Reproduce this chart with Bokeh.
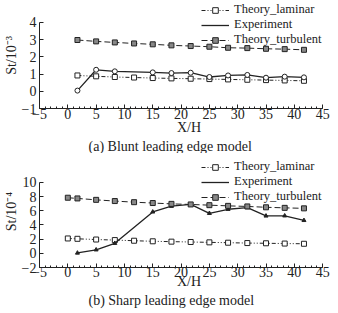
from bokeh.plotting import figure
from bokeh.models import (ColumnDataSource, Legend, LegendItem, Title, Range1d,
                          FixedTicker)
from bokeh.layouts import column
from bokeh.embed import file_html
from bokeh.resources import INLINE

# ---------------- data ----------------
x_a = [1.7, 5, 8.3, 11.7, 15, 18.3, 21.7, 25, 28.3, 31.7, 35, 38.3, 41.7]
lam_a = [0.92, 0.87, 0.83, 0.80, 0.77, 0.75, 0.73, 0.71, 0.69, 0.67, 0.65, 0.63, 0.61]
turb_a = [2.98, 2.90, 2.84, 2.78, 2.73, 2.67, 2.63, 2.59, 2.53, 2.51, 2.47, 2.45, 2.41]
xexp_a = [1.7, 5, 8.3, 15, 18.3, 21.7, 25, 28.3, 31.7, 35, 38.3, 41.7]
exp_a = [0.04, 1.25, 1.16, 1.10, 1.06, 1.08, 0.83, 0.92, 0.95, 0.79, 0.85, 0.81]

x_b = [0, 1.7, 5, 8.3, 11.7, 15, 18.3, 21.7, 25, 28.3, 31.7, 35, 38.3, 41.7]
lam_b = [2.10, 2.05, 1.95, 1.87, 1.78, 1.70, 1.65, 1.60, 1.55, 1.50, 1.45, 1.42, 1.38, 1.35]
turb_b = [7.85, 7.75, 7.55, 7.38, 7.22, 7.10, 6.98, 6.90, 6.80, 6.70, 6.62, 6.50, 6.42, 6.35]
xexp_b = [1.7, 5, 8.3, 15, 18.3, 21.7, 25, 28.3, 31.7, 35, 38.3, 41.7]
exp_b = [0.05, 0.50, 1.42, 5.85, 6.65, 6.92, 5.65, 6.22, 6.45, 5.28, 5.30, 4.65]

x_ticks = [-5, 0, 5, 10, 15, 20, 25, 30, 35, 40, 45]
y_ticks_a = [-1, 0, 1, 2, 3, 4]
y_ticks_b = [-2, 0, 2, 4, 6, 8, 10]

labels = ["Theory_laminar", "Experiment", "Theory_turbulent"]
ylabel_a = "St/10\u207b\u00b3"
ylabel_b = "St/10\u207b\u2074"
xlabel = "X/H"
caption_a = "(a)  Blunt leading edge model"
caption_b = "(b)  Sharp leading edge model"

FONT = "Liberation Serif"
INK = "#222222"
ROW = 14


def make_panel(x, lam, turb, xexp, exp, yticks, ytop, ylabel, caption,
               height, frame_h, legend_top, tick_so, lab_so, tit_so,
               exp_marker, exp_size, exp_fill):
    top = 2
    bottom = height - top - frame_h
    p = figure(width=338, height=height, output_backend="svg",
               toolbar_location=None, x_range=Range1d(-5, 47.8),
               y_range=Range1d(yticks[0], ytop),
               min_border_left=38, min_border_right=0, min_border_top=top,
               min_border_bottom=bottom)
    p.outline_line_color = None
    p.grid.visible = False
    p.background_fill_color = "white"

    for ax in (p.xaxis[0], p.yaxis[0]):
        ax.major_tick_in = 4
        ax.major_tick_out = 0
        ax.minor_tick_in = 2
        ax.minor_tick_out = 0
        ax.axis_line_color = INK
        ax.major_tick_line_color = INK
        ax.minor_tick_line_color = INK
        ax.major_label_text_font = FONT
        ax.major_label_text_font_size = "14px"
        ax.major_label_text_color = INK
        ax.axis_label_text_font = FONT
        ax.axis_label_text_font_size = "14px"
        ax.axis_label_text_font_style = "normal"
        ax.axis_label_text_color = INK
    p.xaxis[0].ticker = FixedTicker(ticks=x_ticks,
                                    minor_ticks=list(range(-5, 46)))
    p.xaxis[0].bounds = (x_ticks[0], x_ticks[-1])
    p.yaxis[0].ticker = FixedTicker(ticks=yticks)
    p.yaxis[0].minor_tick_in = 0
    p.yaxis[0].bounds = (yticks[0], yticks[-1])
    p.xaxis[0].axis_label = xlabel
    p.xaxis[0].major_label_standoff = tick_so
    p.xaxis[0].axis_label_standoff = lab_so
    p.yaxis[0].axis_label = ylabel
    p.yaxis[0].major_label_standoff = 3
    p.yaxis[0].axis_label_standoff = 0

    s_lam = ColumnDataSource(dict(x=x, y=lam))
    s_turb = ColumnDataSource(dict(x=x, y=turb))
    s_exp = ColumnDataSource(dict(x=xexp, y=exp))

    l1 = p.line("x", "y", source=s_lam, line_color=INK, line_width=1,
                line_dash="4 2 1 2 1 2")
    m1 = p.scatter("x", "y", source=s_lam, marker="square", size=5,
                   line_color=INK, fill_color="white")
    l2 = p.line("x", "y", source=s_exp, line_color=INK, line_width=1.3)
    m2 = p.scatter("x", "y", source=s_exp, marker=exp_marker, size=exp_size,
                   line_color=INK, fill_color=exp_fill)
    l3 = p.line("x", "y", source=s_turb, line_color=INK, line_width=1,
                line_dash="6 3")
    m3 = p.scatter("x", "y", source=s_turb, marker="square", size=5,
                   line_color=INK, fill_color="#888888")
    # legend-only circle for experiment
    m2l = p.scatter(x=[], y=[], marker="circle", size=5, line_color=INK,
                    fill_color="white")

    leg_h = 3 * ROW
    legend = Legend(items=[LegendItem(label=labels[0], renderers=[l1, m1]),
                           LegendItem(label=labels[1], renderers=[l2, m2l]),
                           LegendItem(label=labels[2], renderers=[l3, m3])],
                    location=(162, frame_h - legend_top - leg_h))
    legend.border_line_color = None
    legend.background_fill_alpha = 0
    legend.padding = 0
    legend.margin = 0
    legend.spacing = 0
    legend.label_height = ROW
    legend.glyph_height = ROW
    legend.glyph_width = 28
    legend.label_standoff = 5
    legend.label_text_font = FONT
    legend.label_text_font_size = "12.5px"
    legend.label_text_color = INK
    legend.label_text_line_height = 0.9
    p.add_layout(legend, "center")

    t = Title(text=caption, align="left", offset=49, text_font=FONT,
              text_font_size="14px", text_font_style="normal",
              text_color=INK, standoff=tit_so)
    p.add_layout(t, "below")
    return p


pa = make_panel(x_a, lam_a, turb_a, xexp_a, exp_a, y_ticks_a, 5.16, ylabel_a,
                caption_a, 153, 106, 3, 0, -2, -2, "circle", 5, "white")
pb = make_panel(x_b, lam_b, turb_b, xexp_b, exp_b, y_ticks_b, 13.81, ylabel_b,
                caption_b, 156, 112, 7, -1, -6, -2, "triangle", 4, INK)

layout = column(pa, pb, spacing=0)
open("out.html", "w").write(file_html(layout, INLINE))
